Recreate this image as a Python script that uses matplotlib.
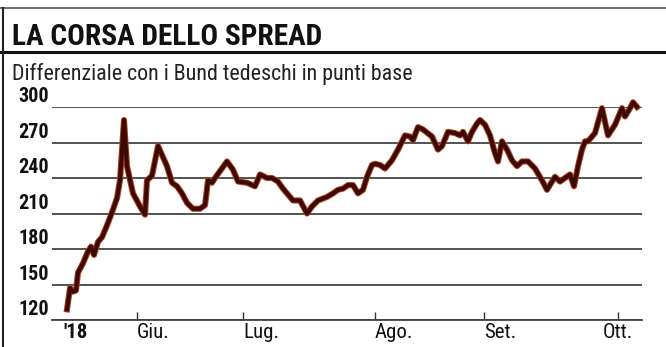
import matplotlib
matplotlib.use("Agg")
import matplotlib.pyplot as plt
import matplotlib.patheffects as pe
from matplotlib import font_manager
from matplotlib.lines import Line2D

# Spread BTP-Bund (asse x in unita' di posizione)
giorni = [67, 70, 73, 76, 78, 83, 88, 91, 94, 98, 102, 107, 112, 117, 120,
          124, 127, 133, 140, 145, 147, 152, 158, 167, 172, 177, 182, 187, 193, 200,
          205, 208, 212, 215, 227, 233, 238, 247, 255, 260, 267, 272, 278, 283, 288,
          293, 300, 307, 312, 318, 327, 333, 338, 343, 348, 353, 358, 363, 367, 372,
          375, 380, 385, 392, 398, 405, 410, 413, 418, 423, 432, 438, 442, 448, 455,
          460, 463, 468, 472, 477, 480, 485, 490, 495, 498, 502, 507, 512, 517, 522,
          528, 535, 542, 547, 552, 555, 560, 565, 570, 574, 578, 582, 585, 588, 595,
          602, 608, 615, 622, 625, 630, 633, 637]
spread = [129, 147, 144, 145, 160, 168, 178, 182, 175, 186, 190, 200, 211, 223, 238,
          289, 250, 227, 216, 209, 238, 242, 267, 250, 236, 233, 227, 219, 214, 214,
          217, 238, 236, 240, 254, 247, 237, 236, 233, 243, 240, 240, 237, 231, 226,
          221, 221, 210, 216, 221, 224, 227, 230, 231, 234, 234, 227, 230, 241, 251,
          252, 251, 248, 255, 264, 276, 275, 272, 283, 281, 275, 264, 267, 279, 278,
          276, 279, 271, 279, 286, 289, 285, 276, 261, 254, 271, 264, 255, 250, 254,
          254, 248, 238, 230, 237, 241, 237, 240, 243, 233, 250, 264, 271, 271, 278,
          299, 276, 285, 299, 292, 299, 304, 300]

mesi = ["Giu.", "Lug.", "Ago.", "Set.", "Ott."]
mesi_pos = [137, 243, 375, 484, 618]
y_ticks = [120, 150, 180, 210, 240, 270, 300]

title = "LA CORSA DELLO SPREAD"
subtitle = "Differenziale con i Bund tedeschi in punti base"

# pick the narrowest family that is installed
installed = set(f.name for f in font_manager.fontManager.ttflist)
narrow = "DejaVu Sans"
for name in ["Liberation Sans Narrow", "Roboto Condensed", "DejaVu Sans Condensed",
             "Roboto", "Liberation Sans"]:
    if name in installed:
        narrow = name
        break

fig = plt.figure(figsize=(6.66, 3.47), dpi=100)
W, H = 666.0, 347.0
renderer = fig.canvas.get_renderer()


def fit_width(t, target):
    w = t.get_window_extent(renderer).width
    t.set_fontsize(t.get_fontsize() * target / w)


# frame lines
fig.add_artist(Line2D([0, 1], [1 - 8 / H, 1 - 8 / H], color="#555555", lw=1.2))
fig.add_artist(Line2D([0, 1], [1 - 52 / H, 1 - 52 / H], color="#111111", lw=2.2))
fig.add_artist(Line2D([3 / W, 3 / W], [0, 1 - 8 / H], color="#222222", lw=1.5))

t1 = fig.text(12 / W, 1 - 45 / H, title, family=narrow, fontweight="bold",
              fontsize=24, va="baseline", ha="left", color="#111111")
fit_width(t1, 310)
t2 = fig.text(12 / W, 1 - 80 / H, subtitle, family=narrow,
              fontsize=13, va="baseline", ha="left", color="#222222")
fit_width(t2, 400)

ax = fig.add_axes([52 / W, 27 / H, (642 - 52) / W, (320 - 107) / H])
ax.set_xlim(52, 642)
ax.set_ylim(120, 300)

for v in y_ticks:
    ax.axhline(v, color="#444444", lw=1.3, zorder=1)
    ax.annotate(str(v), xy=(0, v), xycoords=ax.get_yaxis_transform(),
                xytext=(-2, 0.5), textcoords="offset points", family=narrow,
                fontweight="bold", fontsize=14.5, ha="right", va="bottom",
                color="#111111")

ax.plot(giorni, spread, color="#3a0b06", lw=3.0, clip_on=False, zorder=3,
        solid_joinstyle="round",
        path_effects=[pe.Stroke(linewidth=4.4, foreground="#b3401f"), pe.Normal()])

ax.set_xticks(mesi_pos)
ax.set_xticklabels(mesi, family=narrow, fontsize=15, color="#111111")
for lab in ax.get_xticklabels()[:-1]:
    lab.set_horizontalalignment("left")
ax.tick_params(axis="x", direction="in", length=6, width=1, pad=2, colors="#333333")
ax.tick_params(axis="x", labelcolor="#111111")
ax.set_yticks([])
ax.annotate("'18", xy=(76, 0), xycoords=ax.get_xaxis_transform(),
            xytext=(0, -2), textcoords="offset points", family=narrow,
            fontweight="bold", fontsize=15, ha="center", va="top", color="#111111")

for s in ["top", "right", "left"]:
    ax.spines[s].set_visible(False)
ax.spines["bottom"].set_color("#444444")
ax.spines["bottom"].set_linewidth(1.3)

fig.savefig("out.png", dpi=100)
